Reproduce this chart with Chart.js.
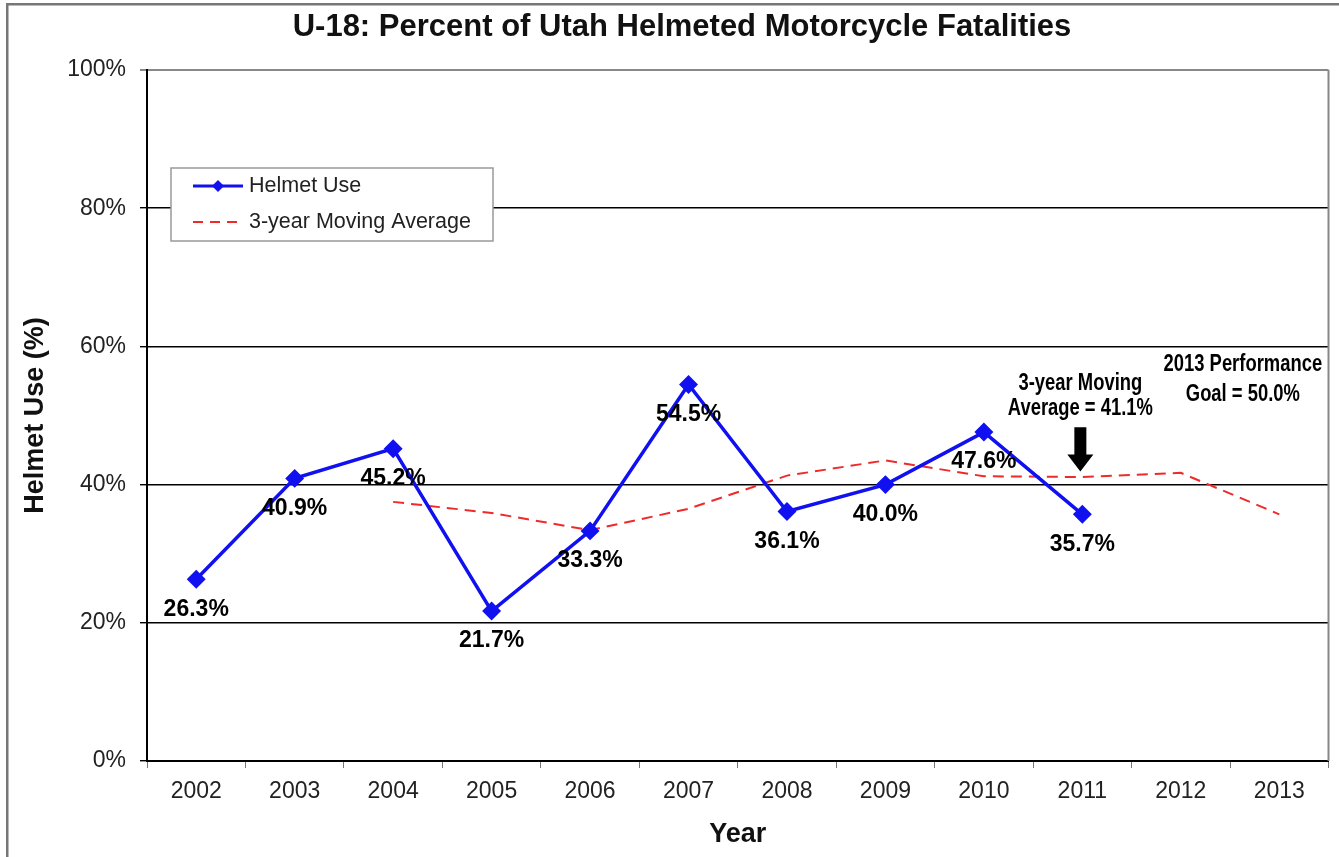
<!DOCTYPE html>
<html>
<head>
<meta charset="utf-8">
<script src="https://cdn.jsdelivr.net/npm/chart.js@4"></script>
<style>
  html, body { margin: 0; padding: 0; background: #fff; }
  #wrap { position: relative; width: 1339px; height: 857px; }
</style>
</head>
<body>
<div id="wrap"><canvas id="chart" width="1339" height="857"></canvas></div>
<script>
const years = ["2002","2003","2004","2005","2006","2007","2008","2009","2010","2011","2012","2013"];
const helmetUse = [26.3, 40.9, 45.2, 21.7, 33.3, 54.5, 36.1, 40.0, 47.6, 35.7, null, null];
const movingAverage = [null, null, 37.5, 35.9, 33.4, 36.5, 41.3, 43.5, 41.2, 41.1, 41.7, 35.7];
const seriesNames = ["Helmet Use", "3-year Moving Average"];
const chartTitle = "U-18: Percent of Utah Helmeted Motorcycle Fatalities";
const avgNote = ["3-year Moving", "Average = 41.1%"];
const goalNote = ["2013 Performance", "Goal = 50.0%"];

const FONT = "'Liberation Sans', Arial, sans-serif";
const BLUE = "#1010f0";
const RED = "#ee2a2a";

// title, frame, plot border, point labels, legend box and notes
const extras = {
  id: "extras",
  beforeDraw(chart) {
    const ctx = chart.ctx;
    ctx.save();
    ctx.fillStyle = "#777";
    ctx.fillRect(6, 3, 2.5, chart.height - 3);
    ctx.fillRect(6, 3, chart.width - 6, 2.5);
    ctx.fillStyle = "#111";
    ctx.font = "bold 31px " + FONT;
    ctx.textAlign = "center";
    ctx.textBaseline = "middle";
    ctx.fillText(chartTitle, 682, 27);
    ctx.restore();
  },
  afterDatasetsDraw(chart) {
    const ctx = chart.ctx;
    const a = chart.chartArea;
    const x = chart.scales.x, y = chart.scales.y;
    ctx.save();
    // right border
    ctx.strokeStyle = "#888";
    ctx.lineWidth = 2;
    ctx.beginPath();
    ctx.moveTo(a.right, a.top);
    ctx.lineTo(a.right, a.bottom);
    ctx.stroke();

    // point labels
    ctx.fillStyle = "#000";
    ctx.font = "bold 23px " + FONT;
    ctx.textAlign = "center";
    ctx.textBaseline = "middle";
    chart.getDatasetMeta(0).data.forEach((pt, i) => {
      if (helmetUse[i] == null) return;
      ctx.fillText(helmetUse[i].toFixed(1) + "%", pt.x, pt.y + 30);
    });

    // notes (condensed bold)
    const note = (lines, cx, ys) => {
      lines.forEach((t, i) => {
        ctx.save();
        ctx.translate(cx, ys[i]);
        ctx.scale(0.8, 1);
        ctx.fillText(t, 0, 0);
        ctx.restore();
      });
    };
    const ax = x.getPixelForValue(9) - 2;
    note(avgNote, ax, [y.getPixelForValue(54.6), y.getPixelForValue(51.0)]);
    note(goalNote, x.getPixelForValue(10.63), [y.getPixelForValue(57.3), y.getPixelForValue(53.0)]);

    // arrow
    const top = y.getPixelForValue(48.3), tip = y.getPixelForValue(41.9);
    const neck = tip - 17;
    ctx.beginPath();
    ctx.moveTo(ax - 6, top);
    ctx.lineTo(ax + 6, top);
    ctx.lineTo(ax + 6, neck);
    ctx.lineTo(ax + 13, neck);
    ctx.lineTo(ax, tip);
    ctx.lineTo(ax - 13, neck);
    ctx.lineTo(ax - 6, neck);
    ctx.closePath();
    ctx.fill();

    // legend box
    const lx = a.left + 24, ly = a.top + 98, lw = 322, lh = 73;
    ctx.fillStyle = "#fff";
    ctx.fillRect(lx, ly, lw, lh);
    ctx.strokeStyle = "#999";
    ctx.lineWidth = 1.5;
    ctx.strokeRect(lx, ly, lw, lh);
    const r1 = ly + 18, r2 = ly + 54;
    ctx.strokeStyle = BLUE;
    ctx.lineWidth = 3;
    ctx.beginPath();
    ctx.moveTo(lx + 22, r1);
    ctx.lineTo(lx + 72, r1);
    ctx.stroke();
    ctx.fillStyle = BLUE;
    ctx.beginPath();
    ctx.moveTo(lx + 47, r1 - 6);
    ctx.lineTo(lx + 53, r1);
    ctx.lineTo(lx + 47, r1 + 6);
    ctx.lineTo(lx + 41, r1);
    ctx.closePath();
    ctx.fill();
    ctx.strokeStyle = RED;
    ctx.lineWidth = 2;
    ctx.setLineDash([10, 7]);
    ctx.beginPath();
    ctx.moveTo(lx + 22, r2);
    ctx.lineTo(lx + 72, r2);
    ctx.stroke();
    ctx.setLineDash([]);
    ctx.fillStyle = "#222";
    ctx.font = "21.5px " + FONT;
    ctx.textAlign = "left";
    ctx.fillText(seriesNames[0], lx + 78, r1);
    ctx.fillText(seriesNames[1], lx + 78, r2);
    ctx.restore();
  }
};

new Chart(document.getElementById("chart"), {
  type: "line",
  data: {
    labels: years,
    datasets: [
      {
        label: seriesNames[0],
        data: helmetUse,
        borderColor: BLUE,
        backgroundColor: BLUE,
        borderWidth: 3.5,
        pointStyle: "rectRot",
        pointRadius: 7,
        pointBackgroundColor: BLUE,
        pointBorderColor: BLUE,
        tension: 0,
        fill: false
      },
      {
        label: seriesNames[1],
        data: movingAverage,
        borderColor: RED,
        borderWidth: 2,
        borderDash: [11, 7],
        pointRadius: 0,
        tension: 0,
        fill: false
      }
    ]
  },
  options: {
    responsive: false,
    devicePixelRatio: 1,
    animation: false,
    layout: { padding: { top: 70, right: 7, left: 0, bottom: 0 } },
    plugins: { legend: { display: false }, title: { display: false }, tooltip: { enabled: false } },
    scales: {
      x: {
        offset: true,
        afterFit(s) { s.height = 96; },
        grid: { display: true, drawOnChartArea: false, drawTicks: true, tickLength: 7, color: "#777", offset: true },
        border: { color: "#000", width: 2 },
        ticks: { color: "#222", font: { family: FONT, size: 23 }, padding: 10, maxRotation: 0 },
        title: { display: true, text: "Year", color: "#111", font: { family: FONT, size: 27, weight: "bold" }, padding: { top: 0, bottom: 6 } }
      },
      y: {
        min: 0,
        max: 100,
        afterFit(s) { s.width = 147; },
        grid: {
          color: c => (c.tick && c.tick.value === 100 ? "#888" : "#000"),
          lineWidth: c => (c.tick && c.tick.value === 100 ? 2 : 1.4),
          tickLength: 7
        },
        border: { color: "#000", width: 2 },
        ticks: { stepSize: 20, color: "#222", font: { family: FONT, size: 23 }, padding: 14, callback: v => v + "%" },
        title: { display: true, text: "Helmet Use (%)", color: "#111", font: { family: FONT, size: 27, weight: "bold" }, padding: { top: 19, bottom: 0 } }
      }
    }
  },
  plugins: [extras]
});
</script>
</body>
</html>
